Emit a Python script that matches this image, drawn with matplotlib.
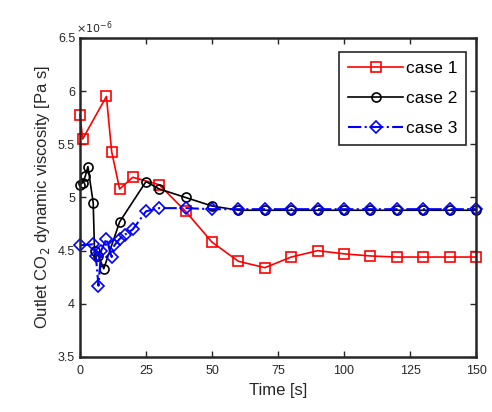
import numpy as np
import matplotlib
matplotlib.use('Agg')
import matplotlib.pyplot as plt

plt.rcParams['font.family'] = ['Liberation Sans', 'DejaVu Sans']

# values in units of 1e-6 Pa s
t_1 = [0, 1, 10, 12, 15, 20, 30, 40, 50, 60, 70, 80, 90, 100, 110, 120, 130, 140, 150]
mu_1 = [5.78, 5.55, 5.95, 5.43, 5.08, 5.19, 5.12, 4.87, 4.58, 4.40, 4.34, 4.44, 4.50,
        4.47, 4.45, 4.44, 4.44, 4.44, 4.44]

t_2 = [0, 1, 2, 3, 5, 5.5, 7, 9, 15, 25, 30, 40, 50, 60, 70, 80, 90, 100, 110, 120,
       130, 140, 150]
mu_2 = [5.12, 5.14, 5.20, 5.29, 4.95, 4.50, 4.45, 4.33, 4.77, 5.15, 5.08, 5.00, 4.92,
        4.88, 4.88, 4.88, 4.88, 4.88, 4.88, 4.88, 4.88, 4.88, 4.88]

t_3 = [0, 5, 6, 7, 8, 10, 12, 13, 15, 17, 20, 25, 30, 40, 50, 60, 70, 80, 90, 100,
       110, 120, 130, 140, 150]
mu_3 = [4.55, 4.56, 4.45, 4.17, 4.50, 4.61, 4.44, 4.55, 4.61, 4.65, 4.70, 4.87, 4.90,
        4.90, 4.89, 4.89, 4.89, 4.89, 4.89, 4.89, 4.89, 4.89, 4.89, 4.89, 4.89]

x_ticks = [0, 25, 50, 75, 100, 125, 150]
y_ticks = [3.5, 4, 4.5, 5, 5.5, 6, 6.5]

fig = plt.figure(figsize=(4.92, 4.12), dpi=100)
ax = fig.add_axes([0.1626, 0.1335, 0.805, 0.7743])

ax.plot(t_1, mu_1, '-s', color='red', mfc='none', ms=6.5, lw=1.2, mew=1.2,
        label='case 1', clip_on=False)
ax.plot(t_2, mu_2, '-o', color='black', mfc='none', ms=6.5, lw=1.2, mew=1.2,
        label='case 2', clip_on=False)
ax.plot(t_3, mu_3, '-.D', color='blue', mfc='none', ms=6, lw=1.5, mew=1.2,
        label='case 3', clip_on=False)

ax.set_xlim(0, 150)
ax.set_ylim(3.5, 6.5)
ax.set_xticks(x_ticks)
ax.set_yticks(y_ticks)
ax.set_yticklabels(['%g' % v for v in y_ticks])
ax.tick_params(direction='in', top=True, right=True, labelsize=9, colors='#262626',
               length=4, width=1)
ax.tick_params(axis='x', pad=6)
for s in ax.spines.values():
    s.set_linewidth(1.8)
    s.set_color('#262626')

ax.text(-0.01, 1.005, r'$\times10^{-6}$', transform=ax.transAxes, fontsize=8,
        color='#262626', va='bottom', ha='left')

ax.set_xlabel('Time [s]', fontsize=12, color='#262626')
ax.set_ylabel('Outlet CO$_2$ dynamic viscosity [Pa s]', fontsize=12, color='#262626')

leg = ax.legend(loc='upper right', fontsize=12.5, fancybox=False, edgecolor='#262626',
                framealpha=1, handlelength=3.2, handletextpad=0.15, borderpad=0.5,
                labelspacing=0.85, borderaxespad=0, bbox_to_anchor=(0.975, 0.955))
leg.get_frame().set_linewidth(1.2)

fig.savefig('out.png', dpi=100)
